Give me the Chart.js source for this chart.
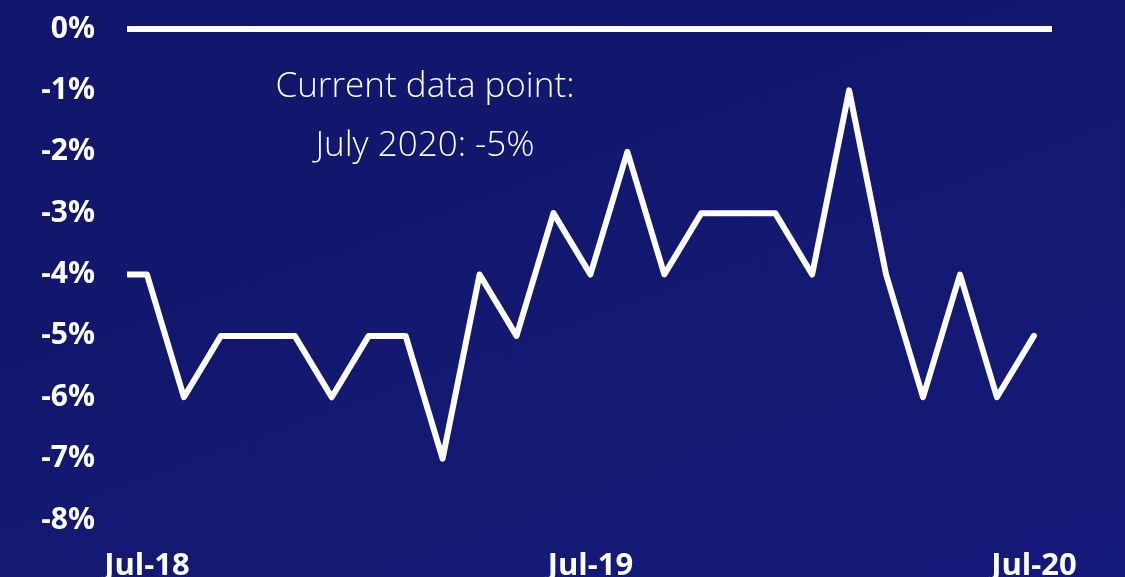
<!DOCTYPE html>
<html><head><meta charset="utf-8">
<script src="https://cdn.jsdelivr.net/npm/chart.js@4"></script>
<style>
html,body{margin:0;padding:0;}
body{width:1125px;height:577px;overflow:hidden;background:linear-gradient(160deg,#11156c 0%,#13186f 45%,#141a7a 100%);position:relative;font-family:"Open Sans",sans-serif;}
#wrap{position:absolute;left:0;top:0;width:1125px;height:577px;}
#note{position:absolute;left:175px;top:54px;width:500px;text-align:center;color:#fff;font-family:"Open Sans",sans-serif;font-weight:300;font-size:35px;line-height:59px;}
</style></head>
<body>
<div id="wrap"><canvas id="c" width="1125" height="577"></canvas></div>
<div id="note">Current data point:<br>July 2020: -5%</div>
<script>
const months = ["Jun-18","Jul-18","Aug-18","Sep-18","Oct-18","Nov-18","Dec-18","Jan-19","Feb-19","Mar-19","Apr-19","May-19","Jun-19","Jul-19","Aug-19","Sep-19","Oct-19","Nov-19","Dec-19","Jan-20","Feb-20","Mar-20","Apr-20","May-20","Jun-20","Jul-20"];
const values = [-4,-4,-6,-5,-5,-5,-6,-5,-5,-7,-4,-5,-3,-4,-2,-4,-3,-3,-3,-4,-1,-4,-6,-4,-6,-5];
const xTickLabels = ["Jul-18","Jul-19","Jul-20"];
const yTicks = [0,-1,-2,-3,-4,-5,-6,-7,-8];

// x position: Jul-18 = 0
const pts = values.map((v,i)=>({x:i-1,y:v}));
const tickIdx = xTickLabels.map(l=>months.indexOf(l)-1);

new Chart(document.getElementById('c'),{
  type:'line',
  data:{datasets:[{data:pts,borderColor:'#ffffff',borderWidth:6,pointRadius:0,tension:0,
    borderJoinStyle:'round',borderCapStyle:'round',clip:0,fill:false}]},
  options:{
    responsive:false,animation:false,
    layout:{padding:{left:0,right:73,top:29,bottom:0}},
    plugins:{legend:{display:false},tooltip:{enabled:false}},
    scales:{
      x:{type:'linear',min:-0.54,max:24.49,
        afterBuildTicks:s=>{s.ticks=tickIdx.map(v=>({value:v}));},
        afterFit:s=>{s.height=57;s.paddingLeft=0;s.paddingRight=0;},
        ticks:{autoSkip:false,maxRotation:0,padding:20,color:'#fff',
          font:{family:'"Open Sans"',weight:'bold',size:31},
          callback:(v)=>{const i=tickIdx.indexOf(v);return i>=0?xTickLabels[i]:'';}},
        grid:{display:false},border:{display:false}},
      y:{min:-8,max:0,
        afterBuildTicks:s=>{s.ticks=yTicks.map(v=>({value:v}));},
        afterFit:s=>{s.width=127;s.paddingTop=0;s.paddingBottom=0;},
        ticks:{padding:32,color:'#fff',font:{family:'"Open Sans"',weight:'bold',size:30},
          callback:v=>v+'%'},
        grid:{drawTicks:false,lineWidth:6,color:c=>c.tick&&c.tick.value===0?'#ffffff':'rgba(0,0,0,0)'},
        border:{display:false}}
    }
  }
});
</script>
</body></html>
